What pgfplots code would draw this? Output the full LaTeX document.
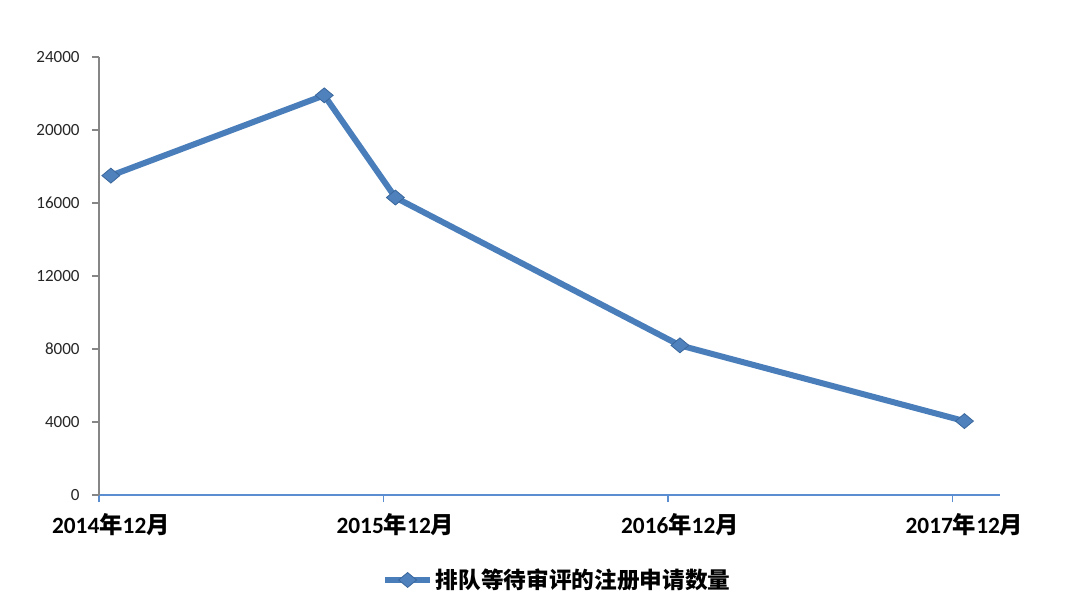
\documentclass[border=0pt]{standalone}
\usepackage{pgfplots}
\pgfplotsset{compat=1.18}
\usepackage{fontspec}
\setmainfont{Carlito}
\newfontfamily\cjk{Noto Sans CJK SC}
\definecolor{serblue}{HTML}{4A7EBB}
\definecolor{mkblue}{HTML}{4F81BD}
\definecolor{mkedge}{HTML}{3A679C}
\definecolor{xaxblue}{HTML}{5B8ED0}
\definecolor{yaxgray}{HTML}{868686}
\begin{document}
\begin{tikzpicture}[x=0.75pt,y=0.75pt]
\useasboundingbox (0,0) rectangle (1080,601);
\begin{axis}[
  at={(74.25pt,79.5pt)}, anchor=south west,
  scale only axis, width=675.75pt, height=328.5pt,
  xmin=-0.5, xmax=37.5, ymin=0, ymax=24000,
  axis lines=left, axis line style={-},
  x axis line style={color=xaxblue, line width=0.9pt},
  y axis line style={color=yaxgray, line width=0.9pt},
  xtick={0,12,24,36},
  xticklabels={2014{\cjk 年}12{\cjk 月},2015{\cjk 年}12{\cjk 月},2016{\cjk 年}12{\cjk 月},2017{\cjk 年}12{\cjk 月}},
  major x tick style={draw=none},
  minor xtick={-0.5,11.5,23.5,35.5},
  minor x tick style={color=xaxblue, line width=0.9pt},
  minor tick length=5.5pt,
  xticklabel style={font=\fontsize{17.5pt}{20pt}\selectfont\bfseries, yshift=-5pt, text=black},
  ytick={0,4000,...,24000},
  y tick style={color=yaxgray, line width=0.9pt},
  major tick length=5pt,
  tick align=outside,
  yticklabel style={font=\fontsize{12.8pt}{14pt}\selectfont, text=black!85, xshift=-6pt},
  /pgf/number format/assume math mode=true,
  scaled y ticks=false,
  y tick label style={/pgf/number format/.cd, 1000 sep={}},
  legend style={at={(0.509,-0.194)}, anchor=center, draw=none, fill=none,
    font=\fontsize{17pt}{19pt}\selectfont\bfseries\cjk},
  legend cell align=left,
  legend image code/.code={\draw[mark repeat=2,mark phase=2] plot coordinates {(0pt,0pt) (17pt,0pt) (34pt,0pt)};},
  clip=false,
]
\addplot[serblue, line width=4.5pt, mark=diamond*, mark size=5.6pt,
  mark options={fill=mkblue, draw=mkedge, line width=0.6pt, xscale=1.6}]
  coordinates {(0,17500) (9,21900) (12,16300) (24,8200) (36,4050)};
\addlegendentry{排队等待审评的注册申请数量}
\end{axis}
\end{tikzpicture}
\end{document}
